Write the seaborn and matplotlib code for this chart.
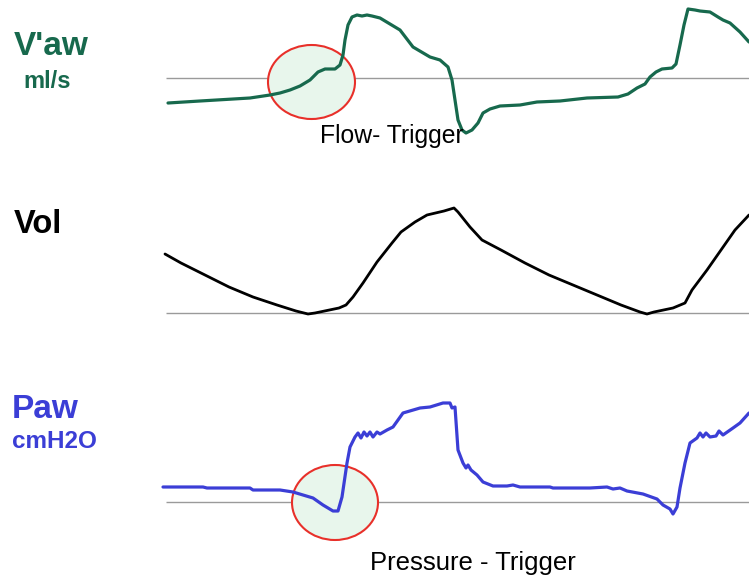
import matplotlib
matplotlib.use('Agg')
import matplotlib.pyplot as plt
from matplotlib.patches import Ellipse
import seaborn as sns

# time axis in seconds
flow_t = [0.03, 0.35, 0.85, 1.05, 1.15, 1.25, 1.35, 1.45, 1.53, 1.60, 1.70, 1.75, 1.78, 1.80,
          1.83, 1.87, 1.92, 1.97, 2.02, 2.07, 2.15, 2.25, 2.35, 2.48, 2.65, 2.75, 2.83, 2.87,
          2.90, 2.93, 2.97, 3.01, 3.07, 3.13, 3.18, 3.25, 3.35, 3.55, 3.72, 3.95, 4.22, 4.53,
          4.63, 4.72, 4.80, 4.85, 4.91, 4.97, 5.07, 5.11, 5.15, 5.19, 5.23, 5.30, 5.35, 5.45,
          5.53, 5.58, 5.65, 5.75, 5.84]
flow_ml_s = [-375, -345, -300, -255, -225, -180, -120, -30, 90, 135, 135, 195, 345, 570,
             795, 915, 945, 930, 945, 930, 900, 810, 720, 465, 315, 270, 165, -30,
             -330, -630, -780, -825, -780, -675, -525, -465, -420, -405, -360, -345, -300, -285,
             -240, -150, -90, 15, 90, 135, 150, 210, 495, 795, 1035, 1020, 1005, 990,
             915, 870, 825, 690, 540]

vol_t = [0.00, 0.16, 0.40, 0.64, 0.88, 1.12, 1.31, 1.43, 1.50, 1.74, 1.81, 1.88, 1.98, 2.12,
         2.27, 2.36, 2.50, 2.62, 2.79, 2.89, 2.93, 3.05, 3.17, 3.36, 3.60, 3.84, 4.08, 4.32,
         4.56, 4.75, 4.82, 4.89, 5.08, 5.20, 5.27, 5.42, 5.56, 5.70, 5.84]
vol_ml = [295, 250, 190, 130, 80, 40, 10, -5, 0, 25, 40, 80, 150, 255,
          350, 405, 455, 490, 510, 525, 505, 430, 365, 315, 250, 190, 140, 90,
          40, 5, -5, 5, 25, 50, 115, 215, 315, 415, 490]

paw_t = [-0.02, 0.38, 0.42, 0.85, 0.88, 1.15, 1.28, 1.38, 1.48, 1.58, 1.68, 1.73, 1.77, 1.82,
         1.85, 1.90, 1.93, 1.96, 1.99, 2.02, 2.05, 2.08, 2.12, 2.15, 2.22, 2.28, 2.38, 2.55,
         2.65, 2.78, 2.85, 2.87, 2.90, 2.93, 2.98, 3.01, 3.03, 3.06, 3.12, 3.18, 3.28, 3.42,
         3.48, 3.55, 3.85, 3.88, 4.25, 4.42, 4.48, 4.55, 4.62, 4.78, 4.92, 4.98, 5.05, 5.08,
         5.12, 5.15, 5.20, 5.25, 5.32, 5.35, 5.38, 5.41, 5.45, 5.51, 5.54, 5.58, 5.68, 5.75,
         5.84]
paw_cmh2o = [3.75, 3.75, 3.5, 3.5, 3.0, 3.0, 2.5, 1.75, 1.0, -0.75, -2.25, -2.25, 1.25, 9.75,
             13.75, 16.25, 17.25, 16.0, 17.5, 16.5, 17.5, 16.25, 17.5, 17.0, 18.0, 18.75, 22.25, 23.5,
             23.75, 24.75, 24.75, 23.5, 23.75, 13.0, 9.75, 8.5, 9.25, 8.0, 6.75, 5.0, 4.0, 4.0,
             4.25, 3.75, 3.75, 3.5, 3.5, 3.75, 3.25, 3.5, 2.75, 2.0, 0.75, -0.75, -1.75, -3.0,
             -1.25, 3.5, 9.75, 14.75, 16.0, 17.25, 16.25, 17.25, 16.25, 16.5, 17.75, 16.75, 18.5, 19.75,
             22.25]

green = '#17694d'
blue = '#3b3ed6'
red = '#e8302a'
fill = '#e8f6ec'

sns.set_style('white')
plt.rcParams['font.family'] = ['Liberation Sans', 'DejaVu Sans']

W, H = 749, 581
fig = plt.figure(figsize=(W / 100, H / 100), dpi=100)


def panel(top, bottom, ylim):
    ax = fig.add_axes([160 / W, 1 - bottom / H, (W - 160) / W, (bottom - top) / H])
    ax.set_xlim(-0.05, 5.84)
    ax.set_ylim(*ylim)
    ax.axis('off')
    ax.hlines(0, 0.01, 5.84, color='#9a9a9a', lw=1.0, zorder=1)
    return ax


ax1 = panel(0, 160, (-1230, 1170))
ax2 = panel(180, 330, (-85, 665))
ax3 = panel(380, 581, (-19.75, 30.5))

# trigger circles
ax1.add_patch(Ellipse((1.465, -60), 0.87, 1110, facecolor=fill, edgecolor=red, lw=1.5, zorder=2))
ax3.add_patch(Ellipse((1.70, -0.125), 0.86, 18.75, facecolor=fill, edgecolor=red, lw=1.5, zorder=2))

sns.lineplot(x=flow_t, y=flow_ml_s, ax=ax1, color=green, lw=2.3, zorder=3)
sns.lineplot(x=vol_t, y=vol_ml, ax=ax2, color='black', lw=2.0, zorder=3)
sns.lineplot(x=paw_t, y=paw_cmh2o, ax=ax3, color=blue, lw=2.3, zorder=3)


def label(px, py, s, **kw):
    fig.text(px / W, 1 - py / H, s, va='baseline', ha='left', **kw)


label(14, 55, "V'aw", color=green, fontsize=24, fontweight='bold')
label(23, 88, "ml/s", color=green, fontsize=17, fontweight='bold')
label(14, 233, "Vol", color='black', fontsize=23.5, fontweight='bold')
label(12, 418, "Paw", color=blue, fontsize=24, fontweight='bold')
label(12, 448, "cmH2O", color=blue, fontsize=17.5, fontweight='bold')
label(320, 143, "Flow- Trigger", color='black', fontsize=17.8)
label(370, 570, "Pressure - Trigger", color='black', fontsize=18.5)

fig.savefig('out.png', dpi=100)
